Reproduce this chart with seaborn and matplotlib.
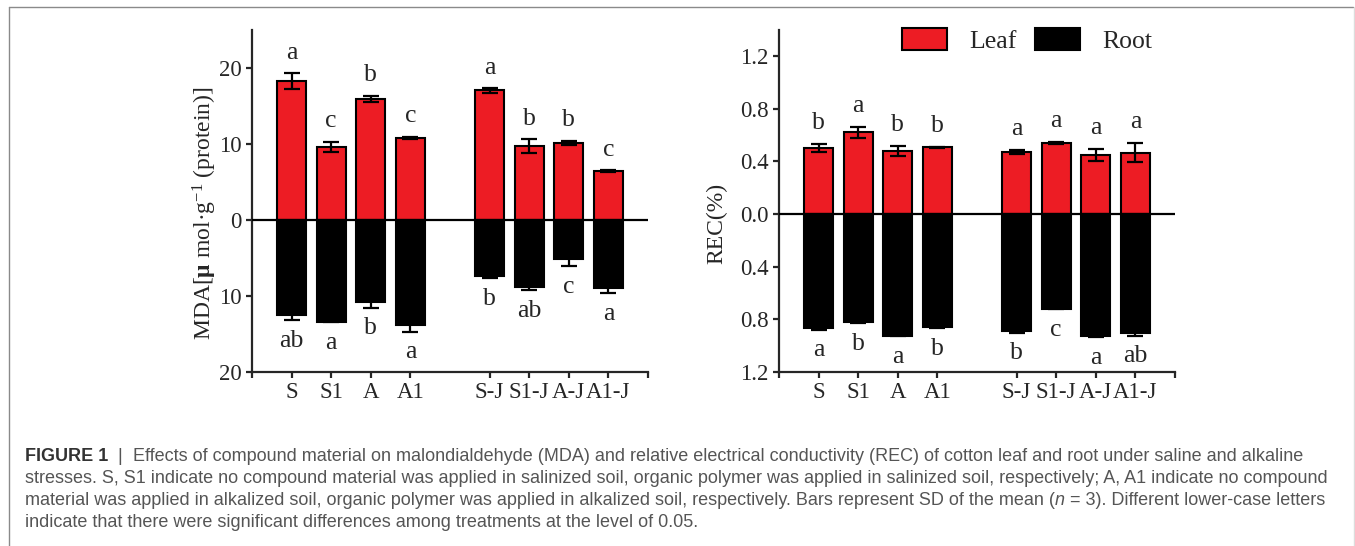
import matplotlib
matplotlib.use("Agg")
import numpy as np
import pandas as pd
import matplotlib.pyplot as plt
import seaborn as sns
from matplotlib.patches import Patch
from matplotlib.lines import Line2D
from matplotlib.ticker import FuncFormatter

# ---------------- data ----------------
treatments = ["S", "S1", "A", "A1", "S-J", "S1-J", "A-J", "A1-J"]

mda_leaf = [18.25, 9.58, 15.9, 10.8, 17.0, 9.67, 10.07, 6.43]
mda_leaf_sd = [1.0, 0.65, 0.4, 0.15, 0.3, 0.9, 0.3, 0.1]
mda_root = [12.56, 13.4, 10.85, 13.8, 7.4, 8.8, 5.2, 9.0]
mda_root_sd = [0.6, 0.05, 0.7, 0.9, 0.25, 0.4, 0.9, 0.6]
mda_leaf_letters = ["a", "c", "b", "c", "a", "b", "b", "c"]
mda_root_letters = ["ab", "a", "b", "a", "b", "ab", "c", "a"]

rec_leaf = [0.502, 0.619, 0.479, 0.507, 0.471, 0.538, 0.451, 0.466]
rec_leaf_sd = [0.03, 0.045, 0.04, 0.003, 0.015, 0.01, 0.045, 0.075]
rec_root = [0.866, 0.818, 0.925, 0.859, 0.887, 0.718, 0.930, 0.904]
rec_root_sd = [0.013, 0.01, 0.005, 0.01, 0.015, 0.005, 0.005, 0.02]
rec_leaf_letters = ["b", "a", "b", "b", "a", "a", "a", "a"]
rec_root_letters = ["a", "b", "a", "b", "b", "c", "a", "ab"]

legend_labels = ["Leaf", "Root"]

caption_lines = [
    "stresses. S, S1 indicate no compound material was applied in salinized soil, organic polymer was applied in salinized soil, respectively; A, A1 indicate no compound",
    "indicate that there were significant differences among treatments at the level of 0.05.",
]

# ---------------- style ----------------
sns.set_style("ticks")
plt.rcParams["font.family"] = ["Liberation Serif", "DejaVu Serif"]
plt.rcParams["mathtext.fontset"] = "custom"
plt.rcParams["mathtext.rm"] = "Liberation Serif"
plt.rcParams["mathtext.it"] = "Liberation Serif:italic"
plt.rcParams["mathtext.bf"] = "Liberation Serif:bold"

RED = "#ED1C24"
W, H = 1355, 546
fig = plt.figure(figsize=(W / 100, H / 100), dpi=100)


def ax_rect(x0, x1, y0, y1):
    return [x0 / W, 1 - y1 / H, (x1 - x0) / W, (y1 - y0) / H]


ax1 = fig.add_axes(ax_rect(252, 648, 29.6, 372))
ax2 = fig.add_axes(ax_rect(779, 1175, 29.6, 372))

order = treatments[:4] + ["_gap_"] + treatments[4:]
pos = np.array([order.index(t) for t in treatments])


def panel(ax, leaf, leaf_sd, root, root_sd, leaf_let, root_let, ylim, yticks, fmt, ylabel, lab_xy):
    df = pd.DataFrame({"treatment": treatments, "leaf": leaf, "root": -np.asarray(root)})
    sns.barplot(data=df, x="treatment", y="leaf", order=order, color=RED, saturation=1,
                edgecolor="black", linewidth=1.5, width=0.73, errorbar=None, ax=ax, zorder=2)
    sns.barplot(data=df, x="treatment", y="root", order=order, color="black", saturation=1,
                edgecolor="black", linewidth=1.5, width=0.73, errorbar=None, ax=ax, zorder=2)
    ax.errorbar(pos, leaf, yerr=leaf_sd, fmt="none", ecolor="black", elinewidth=1.6,
                capsize=5.5, capthick=1.6, zorder=3)
    ax.errorbar(pos, -np.asarray(root), yerr=root_sd, fmt="none", ecolor="black",
                elinewidth=1.6, capsize=5.5, capthick=1.6, zorder=3)
    ax.axhline(0, color="black", lw=1.6, zorder=4)
    for x, v, e, t in zip(pos, leaf, leaf_sd, leaf_let):
        ax.annotate(t, (x, v + e), xytext=(0, 10.5), textcoords="offset points",
                    ha="center", va="baseline", fontsize=18.5)
    for x, v, e, t in zip(pos, root, root_sd, root_let):
        ax.annotate(t, (x, -(v + e)), xytext=(0, -7), textcoords="offset points",
                    ha="center", va="top", fontsize=18.5)
    ax.set_xlim(-1, 9)
    ax.set_ylim(*ylim)
    ax.set_yticks(yticks)
    ax.yaxis.set_major_formatter(FuncFormatter(fmt))
    ax.set_xticks(pos)
    ax.set_xticklabels(treatments)
    ax.set_xticks([-1, 9], minor=True)
    ax.set_xlabel("")
    ax.set_ylabel(ylabel, fontsize=17)
    ax.yaxis.set_label_coords(*lab_xy)
    for s in ["top", "right"]:
        ax.spines[s].set_visible(False)
    for s in ["left", "bottom"]:
        ax.spines[s].set_linewidth(1.6)
    ax.tick_params(which="both", direction="out", length=4.3, width=1.6, labelsize=16.5, pad=3)


panel(ax1, mda_leaf, mda_leaf_sd, mda_root, mda_root_sd, mda_leaf_letters, mda_root_letters,
      (-20, 25), [-20, -10, 0, 10, 20], lambda v, p: f"{abs(v):.0f}",
      "MDA[$\\mathbf{μ}$ mol·g$^{-1}$ (protein)]", (-0.083, 0.464))
panel(ax2, rec_leaf, rec_leaf_sd, rec_root, rec_root_sd, rec_leaf_letters, rec_root_letters,
      (-1.2, 1.4), [-1.2, -0.8, -0.4, 0, 0.4, 0.8, 1.2], lambda v, p: f"{abs(v):.1f}",
      "REC(%)", (-0.131, 0.434))

handles = [Patch(facecolor=RED, edgecolor="black", linewidth=1.5),
           Patch(facecolor="black", edgecolor="black", linewidth=1.5)]
fig.legend(handles, legend_labels, loc="upper left", bbox_to_anchor=(902 / W, 1 - 28 / H),
           ncol=2, frameon=False, fontsize=18.5, borderpad=0, borderaxespad=0,
           handlelength=1.75, handleheight=0.95, handletextpad=0.85, columnspacing=0.75)

# ---------------- caption ----------------
sans = ["Liberation Sans", "DejaVu Sans"]
cgray = "#555555"
renderer = fig.canvas.get_renderer()

probe = fig.text(0, 0, caption_lines[0], family=sans, fontsize=12)
wpx = probe.get_window_extent(renderer).width
probe.remove()
fs = 12 * 1305 / wpx

x0 = 25
baselines = [461, 483, 505, 527]


def put(x, ybase, s, **kw):
    t = fig.text(x / W, 1 - ybase / H, s, family=sans, fontsize=fs, color=cgray,
                 va="baseline", ha="left", **kw)
    return t, t.get_window_extent(renderer).x1


t, xe = put(x0, baselines[0], "FIGURE 1", weight="bold")
t.set_color("#333333")
t, xe = put(xe, baselines[0], "  |  ")
t, xe = put(xe, baselines[0], "Effects of compound material on malondialdehyde (MDA) and relative "
            "electrical conductivity (REC) of cotton leaf and root under saline and alkaline")
put(x0, baselines[1], caption_lines[0])
t, xe = put(x0, baselines[2], "material was applied in alkalized soil, organic polymer was applied in "
            "alkalized soil, respectively. Bars represent SD of the mean (")
t, xe = put(xe, baselines[2], "n", style="italic")
t, xe = put(xe, baselines[2], " = 3). Different lower-case letters")
put(x0, baselines[3], caption_lines[1])

# frame around figure + caption
fig.add_artist(Line2D([9 / W, 1353 / W], [1 - 7 / H, 1 - 7 / H], color="#8a8a8a", lw=1))
fig.add_artist(Line2D([9 / W, 9 / W], [0, 1 - 7 / H], color="#8a8a8a", lw=1))
fig.add_artist(Line2D([1353.5 / W, 1353.5 / W], [0, 1 - 7 / H], color="#dddddd", lw=1))

fig.savefig("out.png", dpi=100)
